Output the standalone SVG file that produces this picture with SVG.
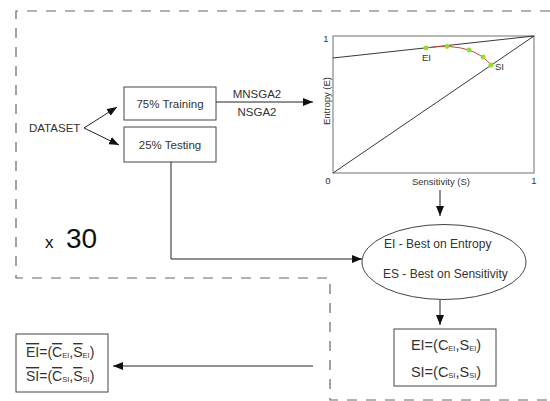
<svg xmlns="http://www.w3.org/2000/svg" width="550" height="401" viewBox="0 0 550 401">
<defs>
<marker id="ah" viewBox="0 0 10 8" refX="10" refY="4" markerWidth="10" markerHeight="8" markerUnits="userSpaceOnUse" orient="auto">
<path d="M0,0 L10,4 L0,8 Z" fill="#111"/>
</marker>
</defs>
<style>
text{font-family:"Liberation Sans",Arial,sans-serif;fill:#333}
.box{fill:#fff;stroke:#444;stroke-width:1}
.con{fill:none;stroke:#222;stroke-width:1}
.t12{font-size:11.5px}
.sm{font-size:9.5px}
.eq{font-size:14.5px}
.eqs{font-size:14px}
.sub{font-size:7.5px}
.ov{text-decoration:overline}
</style>
<rect width="550" height="401" fill="#fff"/>
<g id="frame">
<path d="M550,11 H16 V278 H330 V400 H550" fill="none" stroke="#666" stroke-width="1.2" stroke-dasharray="10,9"/>
</g>
<g id="dataset"><text class="t12" x="29" y="132">DATASET</text></g>
<g id="training"><rect class="box" x="124" y="87" width="92" height="33"/><text class="t12" x="170" y="107.5" text-anchor="middle">75% Training</text></g>
<g id="testing"><rect class="box" x="124" y="127" width="92" height="35"/><text class="t12" x="170" y="148.5" text-anchor="middle">25% Testing</text></g>
<g id="algos"><text class="t12" x="257" y="98" text-anchor="middle">MNSGA2</text><text class="t12" x="257" y="116" text-anchor="middle">NSGA2</text></g>
<g id="chart">
<rect x="333" y="36" width="201" height="137" fill="#fff" stroke="#888" stroke-width="1.2"/>
<line x1="333" y1="173" x2="534" y2="36" stroke="#222" stroke-width="0.9"/>
<line x1="333" y1="58" x2="534" y2="36" stroke="#222" stroke-width="0.9"/>
<path d="M426,48 Q450,44 469,50 Q483,55 491,65" fill="none" stroke="#c04848" stroke-width="1"/>
<g fill="#8fe02a"><circle cx="426" cy="48" r="2.4"/><circle cx="447" cy="46.5" r="2.4"/><circle cx="469" cy="50" r="2.4"/><circle cx="483" cy="57" r="2.4"/><circle cx="491" cy="65" r="2.6"/></g>
<text class="sm" x="422" y="61">EI</text>
<text class="sm" x="495" y="70">SI</text>
<text class="sm" x="326" y="42" text-anchor="middle">1</text>
<text class="sm" x="328" y="184" text-anchor="middle">0</text>
<text class="sm" x="534" y="184" text-anchor="middle">1</text>
<text class="sm" x="441" y="185" text-anchor="middle">Sensitivity (S)</text>
<text class="sm" x="0" y="0" text-anchor="middle" transform="translate(330,101) rotate(-90)">Entropy (E)</text>
</g>
<g id="best">
<ellipse cx="444" cy="262" rx="82" ry="37.5" fill="#fff" stroke="#444" stroke-width="1"/>
<text style="font-size:12px" x="384" y="248">EI - Best on Entropy</text>
<text style="font-size:12px" x="383" y="278">ES - Best on Sensitivity</text>
</g>
<g id="result">
<rect class="box" x="394" y="329" width="102" height="57"/>
<text class="eq" x="446" y="350" text-anchor="middle">EI=(C<tspan class="sub" dy="1">EI</tspan><tspan dy="-1">,S</tspan><tspan class="sub" dy="1">EI</tspan><tspan dy="-1">)</tspan></text>
<text class="eq" x="446" y="377" text-anchor="middle">SI=(C<tspan class="sub" dy="1">SI</tspan><tspan dy="-1">,S</tspan><tspan class="sub" dy="1">SI</tspan><tspan dy="-1">)</tspan></text>
</g>
<g id="average">
<rect class="box" x="16" y="334" width="92" height="58"/>
<text class="eqs" x="26" y="357"><tspan class="ov">EI</tspan>=(<tspan class="ov">C</tspan><tspan class="sub" dy="1">EI</tspan><tspan dy="-1">,</tspan><tspan class="ov">S</tspan><tspan class="sub" dy="1">EI</tspan><tspan dy="-1">)</tspan></text>
<text class="eqs" x="26" y="381"><tspan class="ov">SI</tspan>=(<tspan class="ov">C</tspan><tspan class="sub" dy="1">SI</tspan><tspan dy="-1">,</tspan><tspan class="ov">S</tspan><tspan class="sub" dy="1">SI</tspan><tspan dy="-1">)</tspan></text>
</g>
<g id="repeat"><text x="45" y="248" style="font-size:17px;fill:#111">x</text><text x="66" y="248" style="font-size:28px;fill:#111">30</text></g>
<g id="connectors">
<line class="con" x1="84" y1="128" x2="117" y2="107" marker-end="url(#ah)"/>
<line class="con" x1="84" y1="128" x2="119" y2="145" marker-end="url(#ah)"/>
<line class="con" x1="216" y1="102" x2="313" y2="102" marker-end="url(#ah)"/>
<line class="con" x1="440" y1="190" x2="440" y2="216" marker-end="url(#ah)"/>
<path class="con" d="M171,162 V259 H362" marker-end="url(#ah)"/>
<line class="con" x1="440" y1="300" x2="440" y2="325" marker-end="url(#ah)"/>
<line class="con" x1="313" y1="366" x2="113" y2="366" marker-end="url(#ah)"/>
</g>
</svg>
